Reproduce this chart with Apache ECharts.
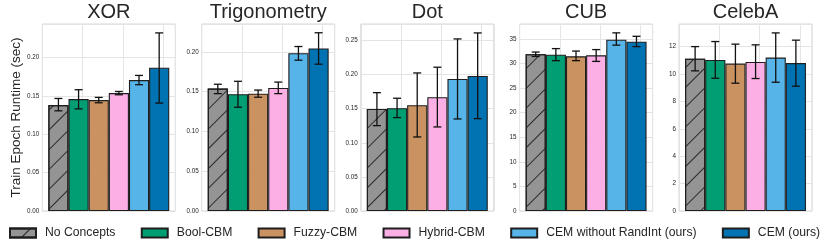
<!DOCTYPE html>
<html><head><meta charset="utf-8">
<script src="https://cdn.jsdelivr.net/npm/echarts@6/dist/echarts.min.js"></script>
<style>html,body{margin:0;padding:0;background:#fff}#c{width:830px;height:248px}</style>
</head><body><div id="c"></div>
<script>
const methods = ['No Concepts','Bool-CBM','Fuzzy-CBM','Hybrid-CBM','CEM without RandInt (ours)','CEM (ours)'];
const colors = ['#949494','#029e73','#ca9161','#fbafe4','#56b4e9','#0173b2'];
const datasets = ['XOR','Trigonometry','Dot','CUB','CelebA'];
const xorMean = [0.138, 0.1458, 0.1445, 0.1536, 0.1706, 0.1867];
const xorLo   = [0.1305, 0.133, 0.141, 0.1514, 0.1645, 0.1406];
const xorHi   = [0.1466, 0.158, 0.148, 0.1557, 0.1766, 0.232];
const trigMean = [0.1538, 0.1468, 0.1475, 0.1547, 0.1983, 0.2042];
const trigLo   = [0.1475, 0.1304, 0.143, 0.1475, 0.1895, 0.1845];
const trigHi   = [0.1593, 0.163, 0.152, 0.162, 0.2067, 0.224];
const dotMean = [0.1497, 0.1507, 0.1551, 0.1669, 0.1937, 0.1981];
const dotLo   = [0.1252, 0.137, 0.1086, 0.1233, 0.135, 0.1355];
const dotHi   = [0.1736, 0.1654, 0.2025, 0.2109, 0.2524, 0.2612];
const cubMean = [31.85, 31.77, 31.44, 31.64, 34.8, 34.4];
const cubLo   = [31.4, 30.55, 30.55, 30.4, 33.7, 33.4];
const cubHi   = [32.3, 33.0, 32.5, 32.8, 36.2, 35.5];
const celebMean = [11.12, 11.03, 10.76, 10.88, 11.2, 10.8];
const celebLo   = [10.23, 9.69, 9.33, 9.67, 9.4, 9.11];
const celebHi   = [12.0, 12.37, 12.18, 12.13, 13.0, 12.47];
const yMax = [0.2436, 0.235, 0.2743, 38.0, 13.65];
const yInterval = [0.05, 0.05, 0.05, 5, 2];
const yDecimals = [2, 2, 2, 0, 0];
const xTicks = [0, 2, 4];
const yLabel = 'Train Epoch Runtime (sec)';

const means = [xorMean, trigMean, dotMean, cubMean, celebMean];
const los = [xorLo, trigLo, dotLo, cubLo, celebLo];
const his = [xorHi, trigHi, dotHi, cubHi, celebHi];

const FONT = 'Liberation Sans, Arial, sans-serif';
const TXT = '#262626';
const gridLefts = [42.3, 201.7, 360.8, 519.6, 679];
const gridW = 133;
const gridTop = 24, gridBottomY = 211;
const xMin = -0.8, xMax = 5.8;
const barW = gridW / (xMax - xMin);

const chart = echarts.init(document.getElementById('c'), null, {renderer:'canvas'});
const grid = [], xAxis = [], yAxis = [], series = [], title = [];
datasets.forEach((name, k) => {
  grid.push({left: gridLefts[k], top: gridTop, width: gridW, height: gridBottomY - gridTop,
    show: true, borderColor: '#d6d6d6', borderWidth: 1, backgroundColor: '#fff'});
  title.push({text: name, left: gridLefts[k] + gridW/2, top: 2, textAlign: 'center', padding: 0,
    textStyle: {fontFamily: FONT, fontSize: 20, fontWeight: 'normal', color: TXT}});
  xAxis.push({type: 'value', gridIndex: k, min: xMin, max: xMax, interval: 2,
    axisLine: {show: false}, axisTick: {show: false},
    splitLine: {show: true, lineStyle: {color: '#e4e4e4', width: 1}},
    axisLabel: {fontFamily: FONT, fontSize: 6.3, color: TXT, margin: 3,
      formatter: v => xTicks.includes(v) ? String(v) : ''}});
  yAxis.push({type: 'value', gridIndex: k, min: 0, max: yMax[k], interval: yInterval[k],
    axisLine: {show: false}, axisTick: {show: false},
    splitLine: {show: true, lineStyle: {color: '#e4e4e4', width: 1}},
    name: k === 0 ? yLabel : '', nameLocation: 'middle', nameGap: 17,
    nameTextStyle: {fontFamily: FONT, fontSize: 13.5, color: TXT},
    axisLabel: {fontFamily: FONT, fontSize: 6.3, color: TXT, margin: 3, showMaxLabel: false,
      formatter: v => v.toFixed(yDecimals[k])}});
  methods.forEach((m, i) => {
    const s = {name: m, type: 'bar', xAxisIndex: k, yAxisIndex: k, barWidth: barW, barGap: '-100%',
      data: [[i, means[k][i]]], z: 2,
      itemStyle: {color: colors[i], borderColor: '#1e1e1e', borderWidth: 1.1}};
    if (i === 0) {
      s.itemStyle.decal = {symbol: 'rect', symbolSize: 1, dashArrayX: [1, 0], dashArrayY: [1, 13],
        rotation: -Math.PI/4, color: '#2a2a2a'};
    }
    series.push(s);
  });
  series.push({type: 'custom', xAxisIndex: k, yAxisIndex: k, z: 5, silent: true,
    data: methods.map((m, i) => [i, los[k][i], his[k][i]]),
    renderItem: (params, api) => {
      const p1 = api.coord([api.value(0), api.value(1)]);
      const p2 = api.coord([api.value(0), api.value(2)]);
      const cw = 4;
      const st = {stroke: '#111', lineWidth: 1.3};
      return {type: 'group', children: [
        {type: 'line', shape: {x1: p1[0], y1: p1[1], x2: p2[0], y2: p2[1]}, style: st},
        {type: 'line', shape: {x1: p1[0]-cw, y1: p1[1], x2: p1[0]+cw, y2: p1[1]}, style: st},
        {type: 'line', shape: {x1: p2[0]-cw, y1: p2[1], x2: p2[0]+cw, y2: p2[1]}, style: st}
      ]};
    }});
});

chart.setOption({
  animation: false,
  aria: {enabled: false},
  title, grid, xAxis, yAxis, series,
  legend: {data: methods, left: 9, top: 227, width: 830, itemWidth: 26, itemHeight: 9, itemGap: 25.3, padding: 0,
    icon: 'rect',
    textStyle: {fontFamily: FONT, fontSize: 12.2, color: TXT, padding: [0, 0, 0, 4]}}
});
</script></body></html>
